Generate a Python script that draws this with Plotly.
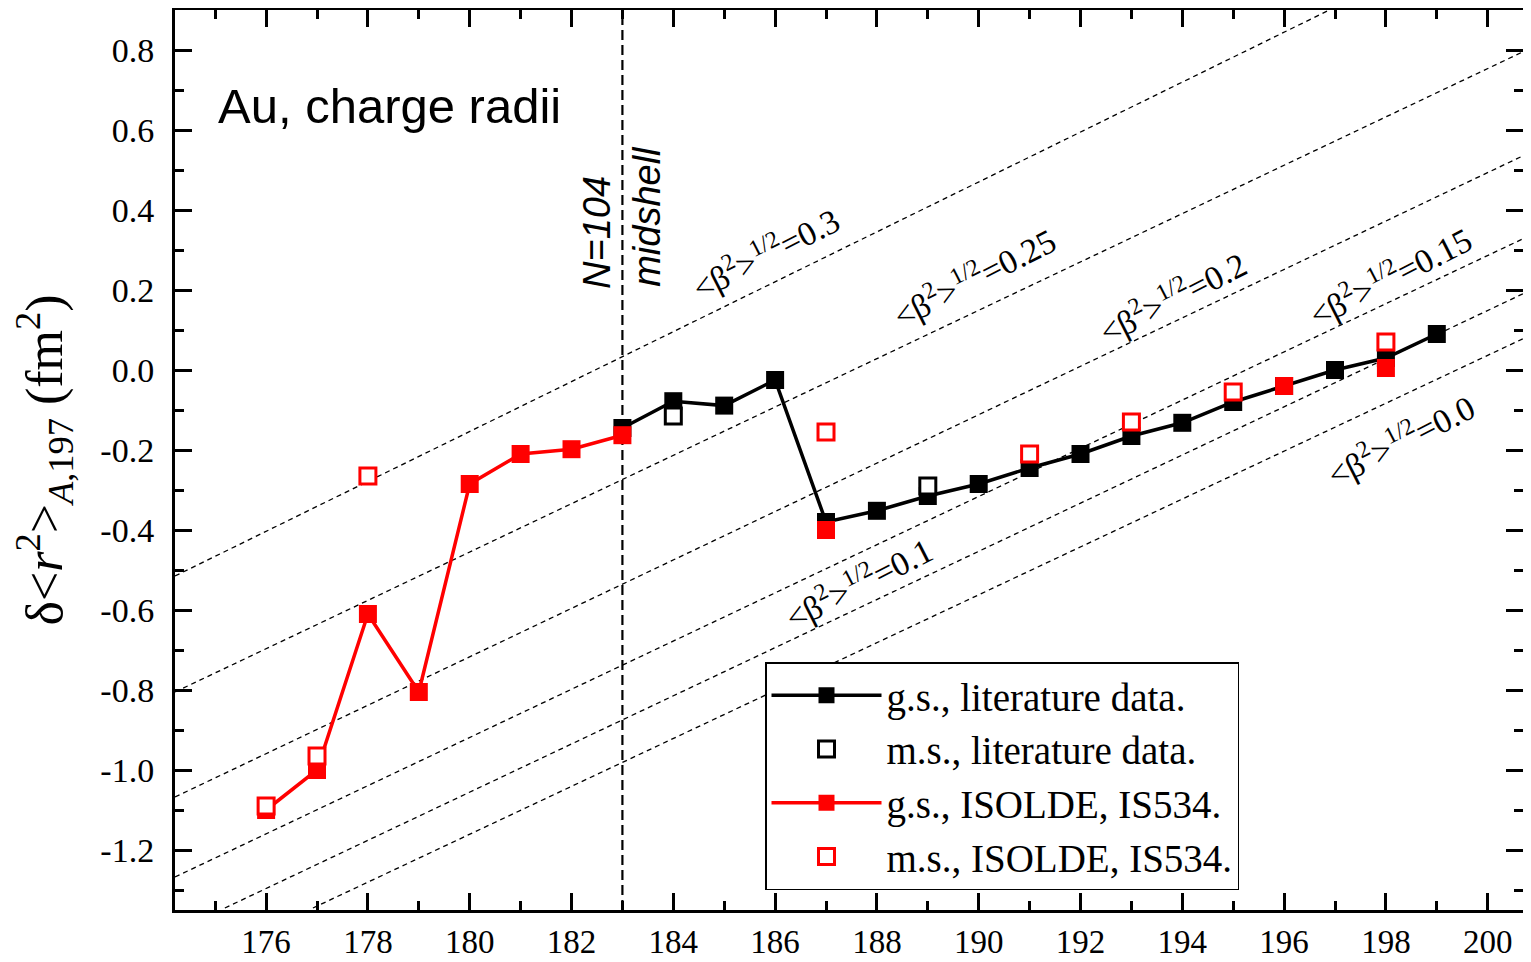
import plotly.graph_objects as go

# ---------------- data ----------------
# g.s., literature data (black filled, connected)
lit_gs_A = [183, 184, 185, 186, 187, 188, 189, 190, 191, 192, 193, 194, 195, 196, 197, 198, 199]
lit_gs_r2 = [-0.145, -0.078, -0.089, -0.025, -0.38, -0.352, -0.315, -0.285, -0.245, -0.21,
             -0.165, -0.132, -0.08, -0.04, 0.0, 0.03, 0.09]

# m.s., literature data (black open)
lit_ms_A = [184, 189]
lit_ms_r2 = [-0.115, -0.29]

# g.s., ISOLDE IS534 (red filled) - connected part
iso_gs_A = [176, 177, 178, 179, 180, 181, 182, 183]
iso_gs_r2 = [-1.10, -1.0, -0.61, -0.805, -0.285, -0.21, -0.198, -0.163]
# g.s., ISOLDE IS534 - isolated points
iso_gs2_A = [187, 196, 198]
iso_gs2_r2 = [-0.40, -0.04, 0.005]

# m.s., ISOLDE IS534 (red open)
iso_ms_A = [176, 177, 178, 187, 191, 193, 195, 198]
iso_ms_r2 = [-1.09, -0.965, -0.265, -0.155, -0.21, -0.13, -0.055, 0.07]

# iso-deformation lines <beta^2>^(1/2) = const (end points)
beta_labels = ["0.3", "0.25", "0.2", "0.15", "0.1", "0.0"]
beta_x0 = [174.21, 174.21, 174.21, 174.21, 175.19, 176.92]
beta_y0 = [-0.515, -0.805, -1.0675, -1.2675, -1.345, -1.345]
beta_x1 = [196.89, 200.85, 200.85, 200.85, 200.85, 200.85]
beta_y1 = [0.90, 0.805, 0.545, 0.3375, 0.20, 0.0875]
# label positions
beta_lab_x = [185.8, 189.9, 193.8, 198.08, 187.62, 198.28]
beta_lab_y = [0.295, 0.235, 0.185, 0.2375, -0.53, -0.172]

midshell_A = 183

x_ticks = [176, 178, 180, 182, 184, 186, 188, 190, 192, 194, 196, 198, 200]
x_minor = [175, 177, 179, 181, 183, 185, 187, 189, 191, 193, 195, 197, 199]
y_ticks = [-1.2, -1.0, -0.8, -0.6, -0.4, -0.2, 0.0, 0.2, 0.4, 0.6, 0.8]
y_ticktext = ["-1.2", "-1.0", "-0.8", "-0.6", "-0.4", "-0.2", "0.0", "0.2", "0.4", "0.6", "0.8"]
y_minor = [-1.3, -1.1, -0.9, -0.7, -0.5, -0.3, -0.1, 0.1, 0.3, 0.5, 0.7]

SERIF = "Liberation Serif"
SANS = "Liberation Sans"
RED = "#ff0000"

# layout geometry (page is shown with an 8px body margin)
W, H = 1515, 954
ML, MR, MT, MB = 167, 0, 2, 52
PW, PH = W - ML - MR, H - MT - MB
OFF = 8
X_MIN = 174.21
X_MAX = X_MIN + PW / 50.9


def px_x(sx):
    return (sx - OFF - ML) / PW


def px_y(sy):
    return (H - MB - (sy - OFF)) / PH


fig = go.Figure()

# iso-beta dashed lines
for i, lab in enumerate(beta_labels):
    fig.add_trace(go.Scatter(
        x=[beta_x0[i], beta_x1[i]], y=[beta_y0[i], beta_y1[i]],
        mode="lines", line=dict(color="black", width=1.3, dash="5px,4px"),
        showlegend=False, hoverinfo="skip"))

# N=104 midshell vertical line
fig.add_trace(go.Scatter(
    x=[midshell_A, midshell_A], y=[-1.35, 0.9], mode="lines",
    line=dict(color="black", width=2.2, dash="10px,5px"),
    showlegend=False, hoverinfo="skip"))

# g.s. literature
fig.add_trace(go.Scatter(
    x=lit_gs_A, y=lit_gs_r2, mode="lines+markers", name="g.s., literature data.",
    line=dict(color="black", width=3.5),
    marker=dict(symbol="square", size=18, color="black", line=dict(width=0)),
    legendrank=1))

# g.s. ISOLDE
fig.add_trace(go.Scatter(
    x=iso_gs_A, y=iso_gs_r2, mode="lines+markers", name="g.s., ISOLDE, IS534.",
    line=dict(color=RED, width=3.5),
    marker=dict(symbol="square", size=18, color=RED, line=dict(width=0)),
    legendgroup="isogs", legendrank=3))
fig.add_trace(go.Scatter(
    x=iso_gs2_A, y=iso_gs2_r2, mode="markers", name="g.s., ISOLDE, IS534.",
    marker=dict(symbol="square", size=18, color=RED, line=dict(width=0)),
    legendgroup="isogs", showlegend=False))

# m.s. literature
fig.add_trace(go.Scatter(
    x=lit_ms_A, y=lit_ms_r2, mode="markers", name="m.s., literature data.",
    marker=dict(symbol="square", size=16, color="white", line=dict(width=3, color="black")),
    legendrank=2))

# m.s. ISOLDE
fig.add_trace(go.Scatter(
    x=iso_ms_A, y=iso_ms_r2, mode="markers", name="m.s., ISOLDE, IS534.",
    marker=dict(symbol="square", size=16, color="white", line=dict(width=3, color=RED)),
    legendrank=4))

annotations = []
for i, lab in enumerate(beta_labels):
    annotations.append(dict(
        x=beta_lab_x[i], y=beta_lab_y[i], xref="x", yref="y",
        text="&lt;β<sup>2</sup>&gt;<sup>1/2</sup>=" + lab,
        showarrow=False, textangle=-27, xanchor="center", yanchor="middle",
        font=dict(family=SERIF, size=34, color="black")))

annotations.append(dict(
    x=px_x(216), y=px_y(106), xref="paper", yref="paper",
    text="Au, charge radii", showarrow=False, xanchor="left", yanchor="middle",
    font=dict(family=SANS, size=49, color="black")))
annotations.append(dict(
    x=182.50, y=0.9 - 222 / 400, xref="x", yref="y",
    text="<i>N=104</i>", showarrow=False, textangle=-90,
    xanchor="center", yanchor="middle",
    font=dict(family=SANS, size=38, color="black")))
annotations.append(dict(
    x=183.48, y=0.9 - 206 / 400, xref="x", yref="y",
    text="<i>midshell</i>", showarrow=False, textangle=-90,
    xanchor="center", yanchor="middle",
    font=dict(family=SANS, size=38, color="black")))

fig.update_layout(
    width=W, height=H,
    margin=dict(l=ML, r=MR, t=MT, b=MB),
    paper_bgcolor="white", plot_bgcolor="white",
    showlegend=True,
    legend=dict(
        x=px_x(765), y=px_y(662), xanchor="left", yanchor="top",
        bgcolor="white", bordercolor="black", borderwidth=1.5,
        font=dict(family=SERIF, size=39, color="black"),
        tracegroupgap=0, itemwidth=110),
    annotations=annotations,
    xaxis=dict(
        range=[X_MIN, X_MAX], showgrid=False, zeroline=False, automargin=False,
        showline=True, linewidth=3, linecolor="black", mirror="allticks",
        ticks="inside", ticklen=17, tickwidth=3, tickcolor="black",
        tickmode="array", tickvals=x_ticks,
        tickfont=dict(family=SERIF, size=33, color="black"),
        ticklabelstandoff=0,
        minor=dict(tickmode="array", tickvals=x_minor, ticks="inside",
                   ticklen=9, tickwidth=3, tickcolor="black", showgrid=False)),
    yaxis=dict(
        range=[-1.35, 0.9], showgrid=False, zeroline=False, automargin=False,
        showline=True, linewidth=3, linecolor="black", mirror="allticks",
        ticks="inside", ticklen=17, tickwidth=3, tickcolor="black",
        tickmode="array", tickvals=y_ticks, ticktext=y_ticktext,
        tickfont=dict(family=SERIF, size=34, color="black"),
        ticklabelstandoff=11,
        title=dict(text="δ&lt;<i>r</i><sup>2</sup>&gt;<sub><i>A</i>,197</sub> (fm<sup>2</sup>)",
                   font=dict(family=SERIF, size=52, color="black"), standoff=24),
        minor=dict(tickmode="array", tickvals=y_minor, ticks="inside",
                   ticklen=9, tickwidth=3, tickcolor="black", showgrid=False)),
)

fig.write_html("out.html")
